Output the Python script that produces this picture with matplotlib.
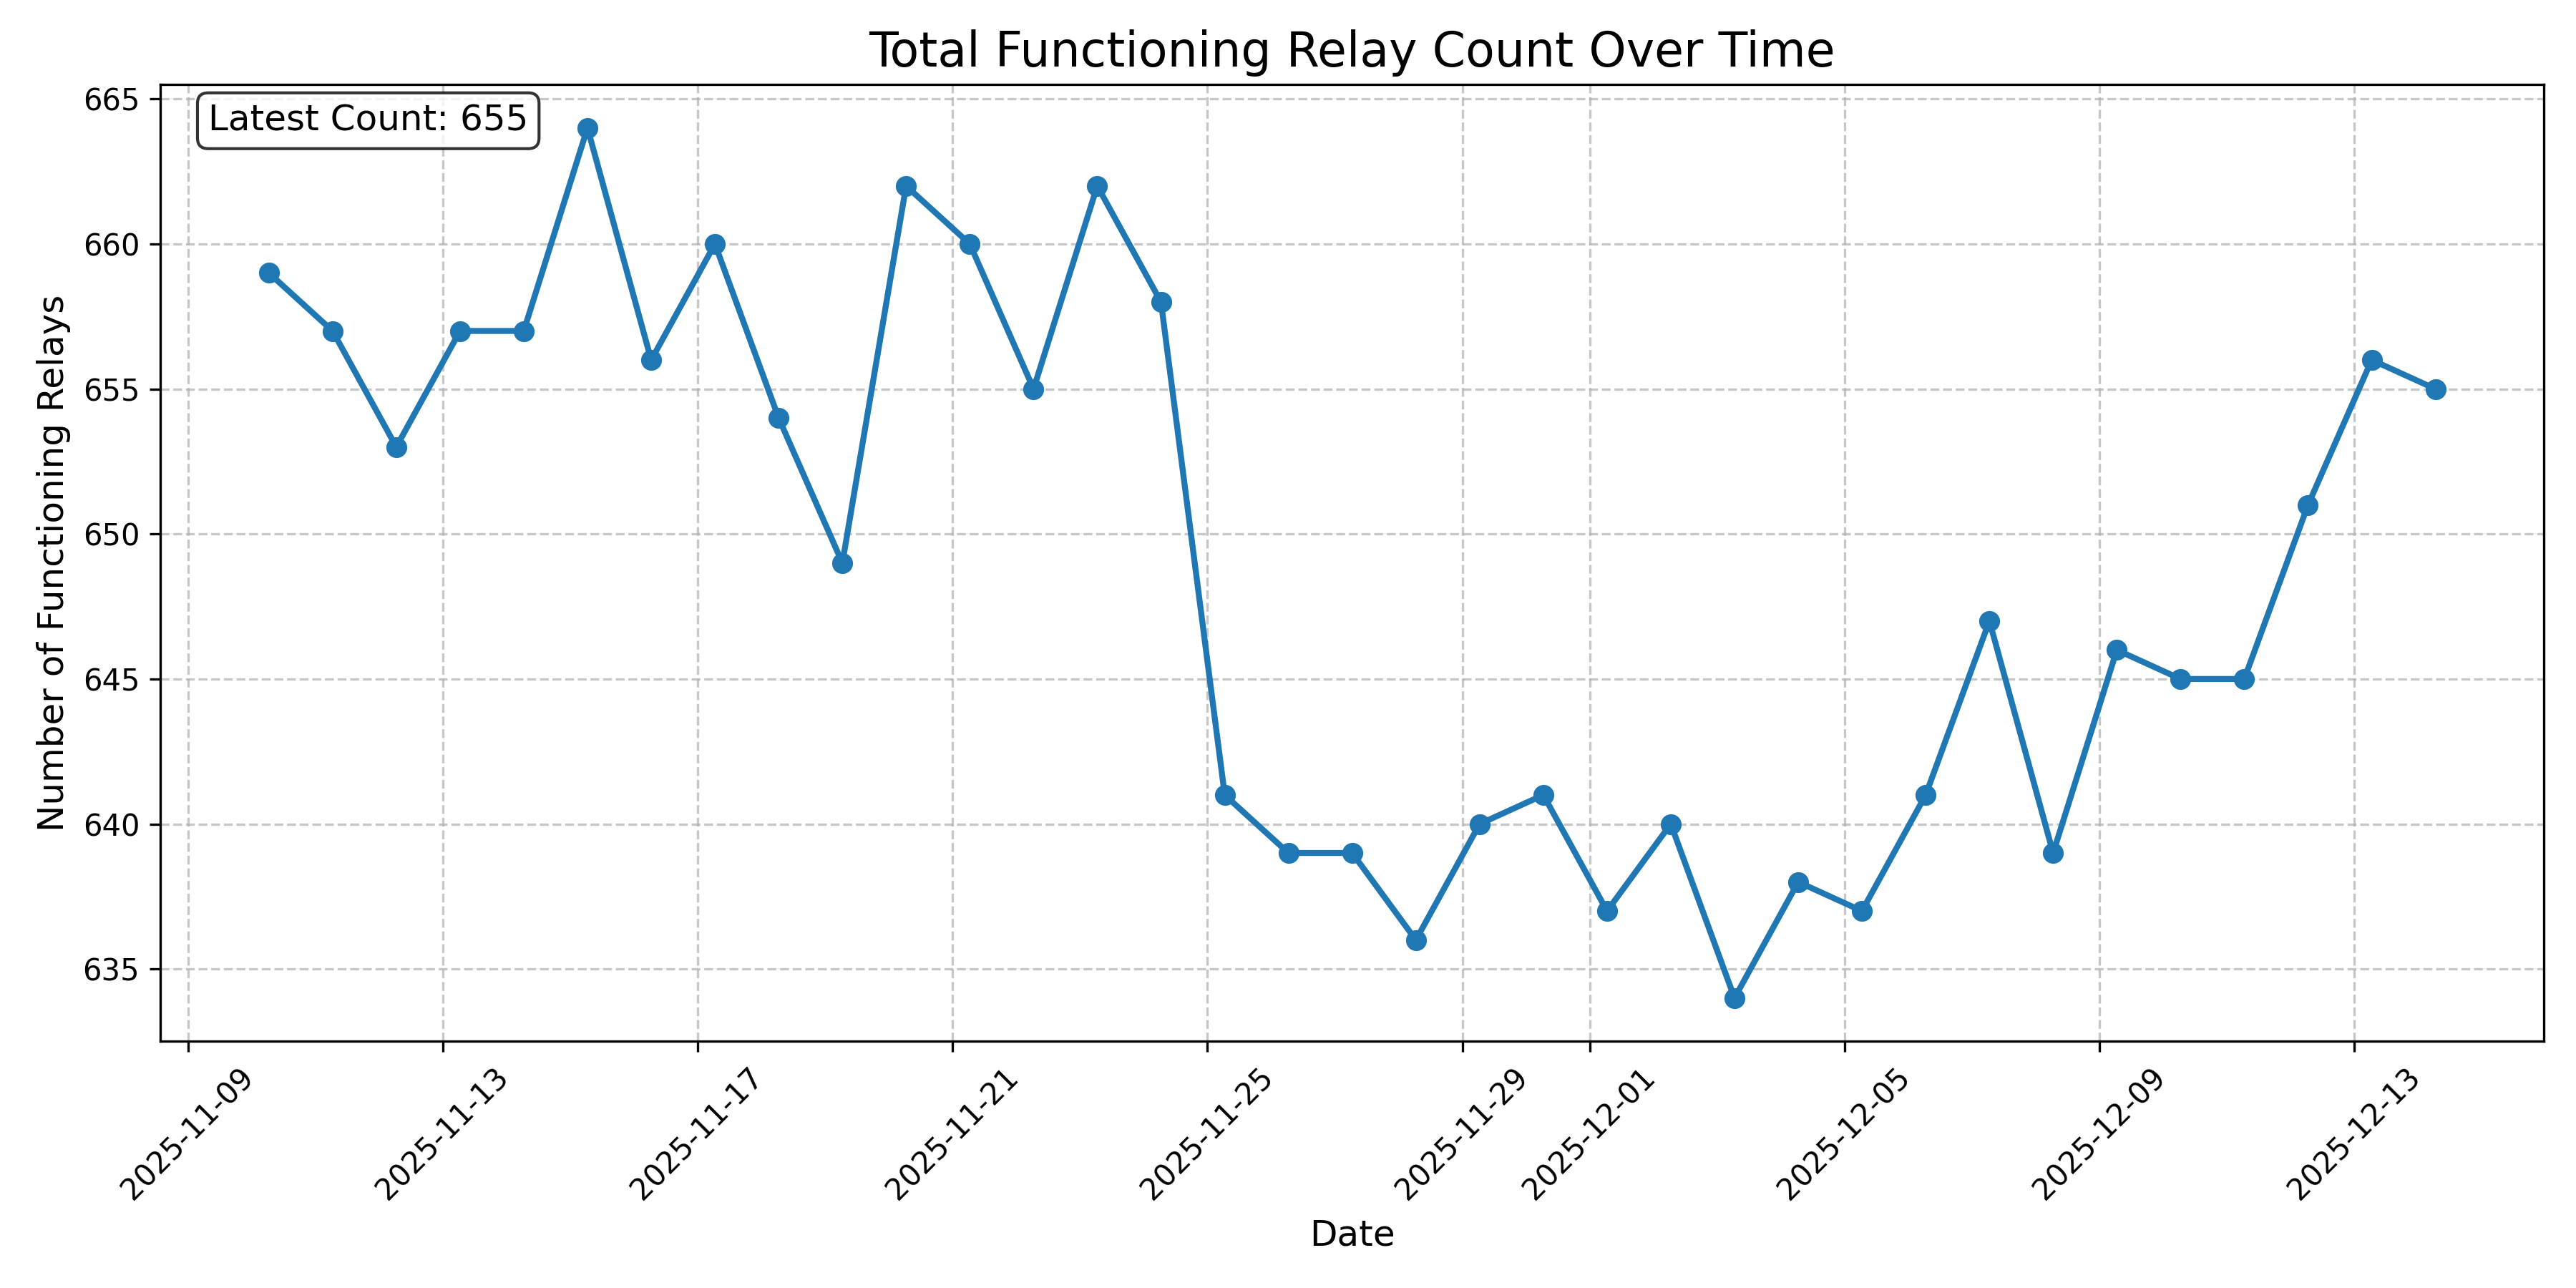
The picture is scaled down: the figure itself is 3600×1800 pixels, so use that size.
import pandas as pd
import matplotlib
matplotlib.use("Agg")
import matplotlib.pyplot as plt

# daily relay counts, sampled around 06:30 each day
start_day = "2025-11-10 06:30"
counts = [659, 657, 653, 657, 657, 664, 656, 660, 654, 649,
          662, 660, 655, 662, 658, 641, 639, 639, 636, 640,
          641, 637, 640, 634, 638, 637, 641, 647, 639, 646,
          645, 645, 651, 656, 655]
dates = pd.date_range(start_day, periods=len(counts), freq="D")

plt.figure(figsize=(12, 6))
plt.plot(dates, counts, marker='o', linestyle='-', linewidth=2, markersize=6, color='#1f77b4')
plt.title('Total Functioning Relay Count Over Time', fontsize=16)
plt.xlabel('Date', fontsize=12)
plt.ylabel('Number of Functioning Relays', fontsize=12)
plt.grid(True, linestyle='--', alpha=0.7)
plt.xticks(rotation=45)

plt.text(0.02, 0.98, f'Latest Count: {counts[-1]}', transform=plt.gca().transAxes,
         fontsize=12, verticalalignment='top',
         bbox=dict(boxstyle='round', facecolor='white', alpha=0.8))

plt.tight_layout()
plt.savefig('out.png', dpi=300)
